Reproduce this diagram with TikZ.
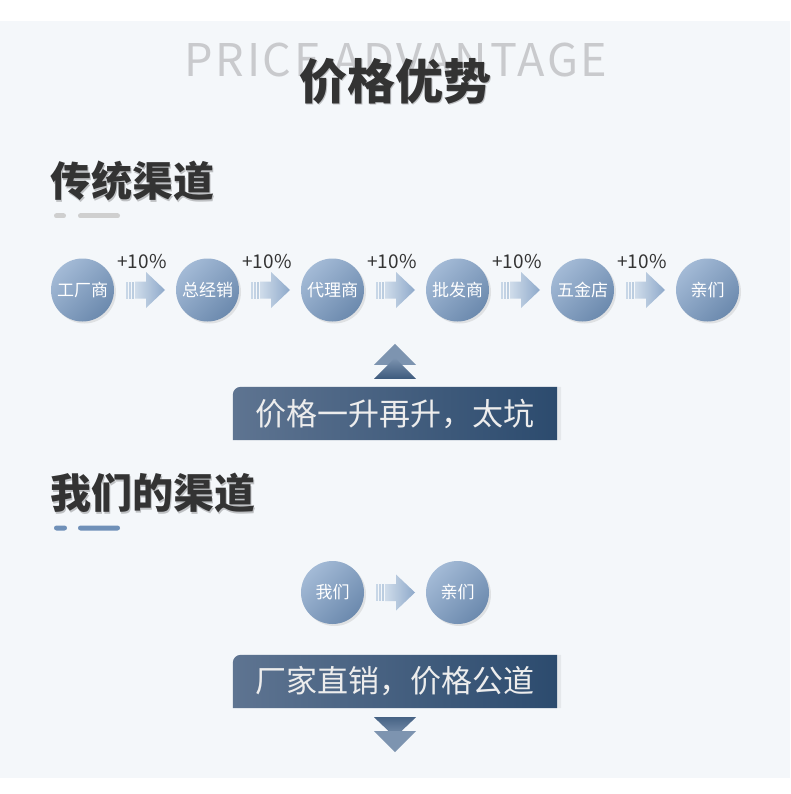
\documentclass[tikz,border=0pt]{standalone}
\usepackage{fontspec}
\setmainfont{Noto Sans CJK SC}
\usetikzlibrary{shadows,backgrounds}
\definecolor{panel_bg}{HTML}{F4F7FA}
\definecolor{ghost_grey}{HTML}{C9CACD}
\definecolor{ink}{HTML}{333333}
\definecolor{bub_light}{HTML}{A3BAD6}
\definecolor{bub_dark}{HTML}{6C8AAE}
\definecolor{arr_light}{HTML}{CFDCEA}
\definecolor{arr_dark}{HTML}{8EA9CA}
\definecolor{banner_left}{HTML}{5E7491}
\definecolor{banner_mid}{HTML}{6B819C}
\definecolor{banner_right}{HTML}{2C4B6E}
\definecolor{chev_light}{HTML}{7D94B0}
\definecolor{chev_dark}{HTML}{3D5A7D}
\definecolor{bar_grey}{HTML}{CFCFCF}
\definecolor{bar_blue}{HTML}{6F90B8}

\tikzset{
  bub/.style={circle, minimum size=63pt, inner sep=0pt, text=white,
    font=\fontsize{17}{17}\selectfont,
    top color=bub_light, bottom color=bub_dark, shading angle=45,
    drop shadow={shadow xshift=2pt, shadow yshift=-2pt, opacity=0.18}},
  heading/.style={anchor=west, inner sep=0pt, text=ink,
    font=\fontsize{41}{41}\selectfont\bfseries},
  hshade/.style={text=black, opacity=0.22, xshift=1.5pt, yshift=-1.5pt},
  pluslbl/.style={font=\fontsize{19}{19}\selectfont, text=ink, inner sep=0pt},
  bannertxt/.style={minimum width=324pt, minimum height=53pt, inner sep=0pt,
    text=white!93!black, font=\fontsize{31}{31}\selectfont},
  bannerbg/.style={left color=banner_left, middle color=banner_mid, right color=banner_right,
    drop shadow={shadow xshift=4pt, shadow yshift=0pt, opacity=0.12}},
  pics/fatarrow/.style={code={
    \fill[arr_light!90!arr_dark] (-19,-8.5) rectangle (-16.8,8.5);
    \fill[arr_light!80!arr_dark] (-16,-8.5) rectangle (-13.8,8.5);
    \fill[arr_light!70!arr_dark] (-13,-8.5) rectangle (-10.8,8.5);
    \shade[left color=arr_light, right color=arr_dark]
      (-10,-8.5) -- (1,-8.5) -- (1,-18) -- (20,0) -- (1,18) -- (1,8.5) -- (-10,8.5) -- cycle;
  }}
}

\begin{document}
\begin{tikzpicture}[x=1pt, y=-1pt]
  \useasboundingbox (0,0) rectangle (790,794);
  \begin{scope}[on background layer]
    \fill[white] (0,0) rectangle (790,794);
    \fill[panel_bg] (0,21) rectangle (790,778);
  \end{scope}

  % title
  \node[text=ghost_grey, font=\fontsize{45}{45}\selectfont\addfontfeature{LetterSpace=6}]
    (pa) at (396,60) {PRICE ADVANTAGE};
  \node[hshade, font=\fontsize{48}{48}\selectfont\bfseries] (jgys-s) at (395,81) {价格优势};
  \node[text=ink, font=\fontsize{48}{48}\selectfont\bfseries] (jgys) at (395,81) {价格优势};

  % traditional channel
  \node[heading, hshade] (ct-s) at (50,181) {传统渠道};
  \node[heading] (ct) at (50,181) {传统渠道};
  \draw[bar_grey, line width=5pt, line cap=round] (56.5,216) -- (63.5,216);
  \draw[bar_grey, line width=5pt, line cap=round] (80.5,216) -- (117.5,216);

  \node[bub] (gc) at (82.5,290) {工厂商};
  \node[bub] (zjx) at (207.5,290) {总经销};
  \node[bub] (dl) at (332.5,290) {代理商};
  \node[bub] (pf) at (457.5,290) {批发商};
  \node[bub] (wj) at (582.5,290) {五金店};
  \node[bub] (qm) at (707.5,290) {亲们};
  \path (gc) -- (zjx) pic[midway]{fatarrow} node[pluslbl, midway, xshift=-3pt, yshift=28pt] {+10\%};
  \path (zjx) -- (dl) pic[midway]{fatarrow} node[pluslbl, midway, xshift=-3pt, yshift=28pt] {+10\%};
  \path (dl) -- (pf) pic[midway]{fatarrow} node[pluslbl, midway, xshift=-3pt, yshift=28pt] {+10\%};
  \path (pf) -- (wj) pic[midway]{fatarrow} node[pluslbl, midway, xshift=-3pt, yshift=28pt] {+10\%};
  \path (wj) -- (qm) pic[midway]{fatarrow} node[pluslbl, midway, xshift=-3pt, yshift=28pt] {+10\%};

  \node[bannertxt] (jg) at (395,413.5) {价格一升再升，太坑};
  \begin{scope}[on background layer]
    \shade[bannerbg] (jg.south west) [rounded corners=8pt] -- (jg.north west)
      [sharp corners] -- (jg.north east) -- (jg.south east) -- cycle;
  \end{scope}
  \fill[chev_light] ([yshift=43pt]jg.north) -- ([xshift=21pt,yshift=22pt]jg.north)
    -- ([xshift=-21pt,yshift=22pt]jg.north) -- cycle;
  \shade[top color=chev_light, bottom color=chev_dark] ([yshift=29pt]jg.north)
    -- ([xshift=21pt,yshift=8pt]jg.north) -- ([xshift=-21pt,yshift=8pt]jg.north) -- cycle;

  % our channel
  \node[heading, hshade] (wm-s) at (50,493) {我们的渠道};
  \node[heading] (wmqd) at (50,493) {我们的渠道};
  \shade[left color=bar_blue, middle color=bar_blue!55!white, right color=bar_blue,
    rounded corners=2.5pt] (54,525.5) rectangle (67,530.5);
  \shade[left color=bar_blue, middle color=bar_blue!55!white, right color=bar_blue,
    rounded corners=2.5pt] (78,525.5) rectangle (120,530.5);

  \node[bub] (wm) at (332.5,592.5) {我们};
  \node[bub] (qm2) at (457.5,592.5) {亲们};
  \path (wm) -- (qm2) pic[midway]{fatarrow};

  \node[bannertxt] (cj) at (395,681.5) {厂家直销，价格公道};
  \begin{scope}[on background layer]
    \shade[bannerbg] (cj.south west) [rounded corners=8pt] -- (cj.north west)
      [sharp corners] -- (cj.north east) -- (cj.south east) -- cycle;
  \end{scope}
  \shade[top color=chev_dark!85!chev_light, bottom color=chev_light] ([xshift=-21pt,yshift=-9pt]cj.south)
    -- ([xshift=21pt,yshift=-9pt]cj.south) -- ([yshift=-29pt]cj.south) -- cycle;
  \fill[chev_light] ([xshift=-21pt,yshift=-23pt]cj.south)
    -- ([xshift=21pt,yshift=-23pt]cj.south) -- ([yshift=-44pt]cj.south) -- cycle;
\end{tikzpicture}
\end{document}
